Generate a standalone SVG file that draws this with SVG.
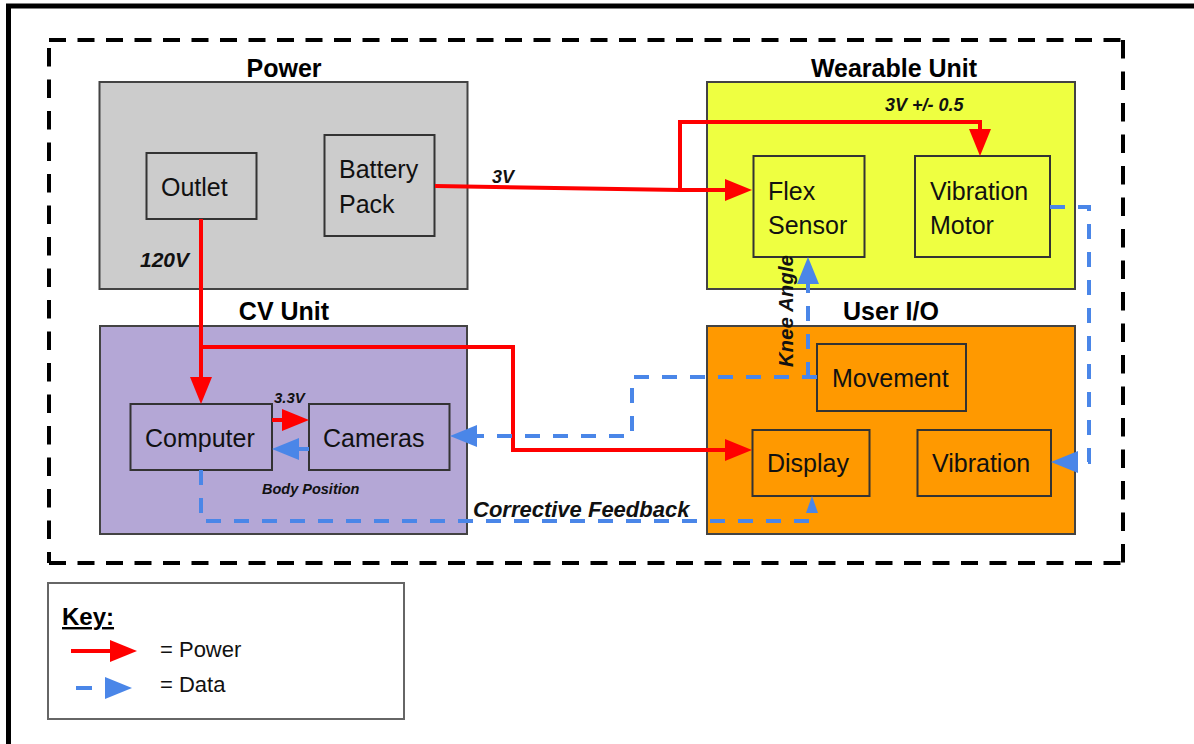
<svg xmlns="http://www.w3.org/2000/svg" width="1194" height="744" viewBox="0 0 1194 744">
<defs>
<style>
.title{font-family:"Liberation Sans",Arial,sans-serif;font-weight:bold;font-size:25px;fill:#000;text-anchor:middle}
.lbl{font-family:"Liberation Sans",Arial,sans-serif;font-size:25px;fill:#111}
.el{font-family:"Liberation Sans",Arial,sans-serif;font-weight:bold;font-style:italic;fill:#111}
.grp{stroke:#434343;stroke-width:2}
.node{stroke:#333;stroke-width:2;fill:none}
.pw{fill:none;stroke:#ff0000;stroke-width:4}
.dt{fill:none;stroke:#4a86e8;stroke-width:4;stroke-dasharray:15 13}
.bd{fill:none;stroke:#000;stroke-width:4}
</style>
<marker id="ar" markerUnits="userSpaceOnUse" markerWidth="28" markerHeight="22" refX="15" refY="11" orient="auto" overflow="visible"><path d="M0,0 L27,11 L0,22 z" fill="#ff0000"/></marker>
<marker id="ab" markerUnits="userSpaceOnUse" markerWidth="28" markerHeight="22" refX="15" refY="11" orient="auto" overflow="visible"><path d="M0,0 L27,11 L0,22 z" fill="#4a86e8"/></marker>
<marker id="abs" markerUnits="userSpaceOnUse" markerWidth="18" markerHeight="12" refX="9" refY="6" orient="auto" overflow="visible"><path d="M0,0 L17,6 L0,12 z" fill="#4a86e8"/></marker>
</defs>
<rect width="1194" height="744" fill="#fff"/>
<g id="frame">
<path d="M8.5,744 L8.5,6 L1194,6" fill="none" stroke="#000" stroke-width="5"/>
<line class="bd" x1="49" y1="40" x2="1123" y2="40" stroke-dasharray="17 11.5"/>
<line class="bd" x1="49" y1="563" x2="1123" y2="563" stroke-dasharray="17 11.5"/>
<line class="bd" x1="49" y1="48" x2="49" y2="563" stroke-dasharray="18.5 13"/>
<line class="bd" x1="1123" y1="40" x2="1123" y2="563" stroke-dasharray="18.5 13"/>
</g>
<g id="power">
<rect class="grp" x="99.5" y="82" width="368" height="207" fill="#cccccc"/>
<text class="title" x="284" y="77">Power</text>
</g>
<g id="outlet">
<rect class="node" x="146.5" y="153" width="110" height="66"/>
<text class="lbl" x="161" y="196">Outlet</text>
</g>
<g id="battery">
<rect class="node" x="324.5" y="135" width="110" height="101"/>
<text class="lbl" x="339" y="178">Battery</text>
<text class="lbl" x="339" y="213">Pack</text>
</g>
<g id="wearable">
<rect class="grp" x="707" y="82" width="368" height="207" fill="#eeff41"/>
<text class="title" x="894" y="77">Wearable Unit</text>
</g>
<g id="flex">
<rect class="node" x="753.5" y="156" width="111" height="101"/>
<text class="lbl" x="768" y="200">Flex</text>
<text class="lbl" x="768" y="234">Sensor</text>
</g>
<g id="motor">
<rect class="node" x="915" y="156" width="135" height="101"/>
<text class="lbl" x="930" y="200">Vibration</text>
<text class="lbl" x="930" y="234">Motor</text>
</g>
<g id="cv">
<rect class="grp" x="100" y="326" width="367" height="208" fill="#b4a7d6"/>
<text class="title" x="284" y="320">CV Unit</text>
</g>
<g id="computer">
<rect class="node" x="130.5" y="404" width="141.5" height="66"/>
<text class="lbl" x="145" y="447">Computer</text>
</g>
<g id="cameras">
<rect class="node" x="309" y="404" width="140.5" height="66"/>
<text class="lbl" x="323" y="447">Cameras</text>
</g>
<g id="userio">
<rect class="grp" x="707" y="326" width="368" height="208" fill="#ff9900"/>
<text class="title" x="891" y="320">User I/O</text>
</g>
<g id="movement">
<rect class="node" x="817" y="344" width="149" height="67"/>
<text class="lbl" x="832" y="387">Movement</text>
</g>
<g id="display">
<rect class="node" x="752.5" y="430" width="117" height="66"/>
<text class="lbl" x="767" y="472">Display</text>
</g>
<g id="vibration">
<rect class="node" x="917.5" y="430" width="133.5" height="66"/>
<text class="lbl" x="932" y="472">Vibration</text>
</g>
<g id="connectors">
<path class="pw" d="M435,186 L680,190 L740,190" marker-end="url(#ar)"/>
<path class="pw" d="M680,190 L680,122 L980,122 L980,144" marker-end="url(#ar)"/>
<path class="pw" d="M201,219 L201,392" marker-end="url(#ar)"/>
<path class="pw" d="M201,347 L513,347 L513,450 L740,450" marker-end="url(#ar)"/>
<path class="pw" d="M272,420 L297,420" marker-end="url(#ar)"/>
<path class="dt" d="M1050,207 L1089,207 L1089,462 L1063,462" marker-end="url(#ab)"/>
<path class="dt" d="M817,377 L632,377 L632,436 L462,436" marker-end="url(#ab)"/>
<path class="dt" d="M808,377 L808,269" marker-end="url(#ab)"/>
<path class="dt" d="M309,449 L284,449" marker-end="url(#ab)"/>
<path class="dt" d="M201,470 L201,521 L812,521 L812,504" marker-end="url(#abs)"/>
<text class="el" x="140" y="267" font-size="21">120V</text>
<text class="el" x="492" y="183" font-size="18">3V</text>
<text class="el" x="885" y="111" font-size="18">3V +/- 0.5</text>
<text class="el" x="274" y="403" font-size="15">3.3V</text>
<text class="el" x="262" y="494" font-size="14.5">Body Position</text>
<text class="el" x="473" y="517" font-size="22">Corrective Feedback</text>
<text class="el" transform="translate(793,367) rotate(-90)" font-size="20" textLength="112" lengthAdjust="spacing">Knee Angle</text>
</g>
<g id="key">
<rect x="48" y="583" width="356" height="136" fill="#fff" stroke="#666" stroke-width="2"/>
<text x="62" y="625" font-family="Liberation Sans, Arial, sans-serif" font-weight="bold" font-size="24" text-decoration="underline" fill="#000">Key:</text>
<path class="pw" d="M71,651 L125,651" marker-end="url(#ar)"/>
<path d="M76,688 L120,688" fill="none" stroke="#4a86e8" stroke-width="4" stroke-dasharray="16 14" marker-end="url(#ab)"/>
<text class="lbl" x="160" y="657" style="font-size:22px">= Power</text>
<text class="lbl" x="160" y="692" style="font-size:22px">= Data</text>
</g>
</svg>
